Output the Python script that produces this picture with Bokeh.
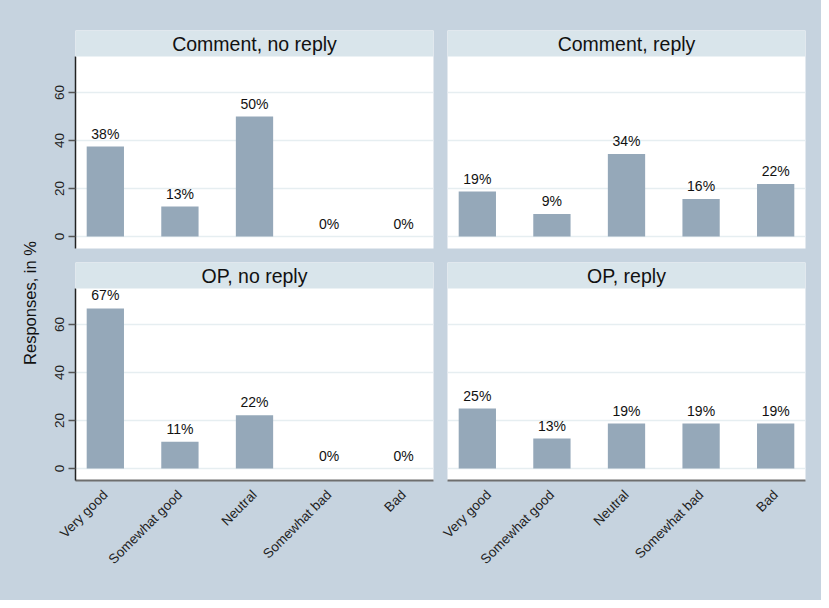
import math
from bokeh.plotting import figure
from bokeh.models import Range1d, FixedTicker, BoxAnnotation, Label, ColumnDataSource
from bokeh.layouts import row, column
from bokeh.embed import file_html
from bokeh.resources import INLINE
from bokeh.core.properties import value

# ---------------- data ----------------
categories = ["Very good", "Somewhat good", "Neutral", "Somewhat bad", "Bad"]
panel_titles = ["Comment, no reply", "Comment, reply", "OP, no reply", "OP, reply"]
comment_no_reply = [37.5, 12.5, 50.0, 0.0, 0.0]
comment_reply = [18.75, 9.375, 34.375, 15.625, 21.875]
op_no_reply = [66.7, 11.1, 22.2, 0.0, 0.0]
op_reply = [25.0, 12.5, 18.75, 18.75, 18.75]
y_ticks = [0, 20, 40, 60]
y_axis_title = "Responses, in %"

# ---------------- style ----------------
FONT = "Liberation Sans"
BG = "#c6d3df"
STRIP = "#d9e5eb"
BAR = "#95a8b9"
GRID = "#e6eef1"
Y_LO, Y_HI = -5, 75
STRIP_UNITS = 26 / 2.4
Y_TOP = Y_HI + STRIP_UNITS


def make_panel(title, values, show_y, show_x, width, height, mb):
    xs = list(range(1, len(categories) + 1))
    labels = ["%d%%" % int(v + 0.5) for v in values]
    src = ColumnDataSource(dict(x=xs, top=values, label=labels))
    p = figure(
        width=width, height=height,
        x_range=Range1d(0.6, len(categories) + 0.4),
        y_range=Range1d(Y_LO, Y_TOP),
        output_backend="svg", toolbar_location=None,
        x_axis_location="below" if show_x else None,
        y_axis_location="left" if show_y else None,
        min_border_left=mb[0], min_border_right=mb[1],
        min_border_top=mb[2], min_border_bottom=mb[3],
    )
    p.border_fill_color = BG
    p.background_fill_color = "white"
    p.outline_line_color = None
    p.xgrid.visible = False
    p.ygrid.ticker = FixedTicker(ticks=y_ticks)
    p.ygrid.grid_line_color = GRID
    p.ygrid.grid_line_width = 1.5

    p.vbar(x="x", top="top", bottom=0, width=0.5, source=src,
           fill_color=BAR, line_color=None)
    p.text(x="x", y="top", text="label", source=src,
           text_align="center", text_baseline="bottom", y_offset=-5,
           text_font=value(FONT), text_font_size="14px", text_color="#111111")

    strip = BoxAnnotation(bottom=Y_HI, fill_color=STRIP, fill_alpha=1.0,
                          line_color=None)
    p.add_layout(strip)
    p.add_layout(Label(x=(len(categories) + 1) / 2, y=Y_HI + STRIP_UNITS / 2,
                       text=title, text_align="center", text_baseline="middle",
                       text_font=FONT, text_font_size="19.5px",
                       text_color="#111111"))

    if show_y:
        ax = p.yaxis[0]
        ax.ticker = FixedTicker(ticks=y_ticks)
        ax.bounds = (Y_LO, Y_HI)
        ax.axis_line_color = "#222222"
        ax.axis_line_width = 1.5
        ax.major_tick_line_color = "#555555"
        ax.major_tick_line_width = 1.5
        ax.major_tick_out = 7
        ax.major_tick_in = 0
        ax.minor_tick_line_color = None
        ax.major_label_orientation = "vertical"
        ax.major_label_standoff = 5
        ax.major_label_text_font = FONT
        ax.major_label_text_font_size = "13.5px"
        ax.major_label_text_color = "#222222"
    if show_x:
        ax = p.xaxis[0]
        ax.ticker = FixedTicker(ticks=xs)
        ax.major_label_overrides = {x: c for x, c in zip(xs, categories)}
        ax.axis_line_color = "#6e6e6e"
        ax.axis_line_width = 2
        ax.major_tick_line_color = None
        ax.major_tick_out = 4
        ax.minor_tick_line_color = None
        ax.major_label_orientation = math.pi / 4
        ax.major_label_standoff = 8
        ax.major_label_text_font = FONT
        ax.major_label_text_font_size = "13.5px"
        ax.major_label_text_color = "#222222"
    return p


FRAME_W, FRAME_H = 358, 218
TL_W = 35 + FRAME_W + 7
TR_W = 7 + FRAME_W + 16
TOP_H = 30 + FRAME_H + 7
BOT_H = 7 + FRAME_H + 120
TOTAL_H = TOP_H + BOT_H

tl = make_panel(panel_titles[0], comment_no_reply, True, False, TL_W, TOP_H, (35, 7, 30, 7))
tr = make_panel(panel_titles[1], comment_reply, False, False, TR_W, TOP_H, (7, 16, 30, 7))
bl = make_panel(panel_titles[2], op_no_reply, True, True, TL_W, BOT_H, (35, 7, 7, 120))
br = make_panel(panel_titles[3], op_reply, False, True, TR_W, BOT_H, (7, 16, 7, 120))

# narrow strip holding the shared y-axis title
LW = 40
lab = figure(width=LW, height=TOTAL_H, x_range=Range1d(0, LW), y_range=Range1d(0, TOTAL_H),
             output_backend="svg", toolbar_location=None,
             x_axis_location=None, y_axis_location=None, min_border=0)
lab.border_fill_color = BG
lab.background_fill_color = BG
lab.outline_line_color = None
lab.grid.visible = False
lab.add_layout(Label(x=29, y=TOTAL_H - (310.5 - 8), text=y_axis_title, angle=math.pi / 2,
                     text_align="center", text_baseline="middle",
                     text_font=FONT, text_font_size="16.5px", text_color="#111111"))

st = {"background-color": BG}
layout = row(lab,
             column(row(tl, tr, styles=st), row(bl, br, styles=st), styles=st),
             styles=st)

with open("out.html", "w") as f:
    f.write(file_html(layout, INLINE))
